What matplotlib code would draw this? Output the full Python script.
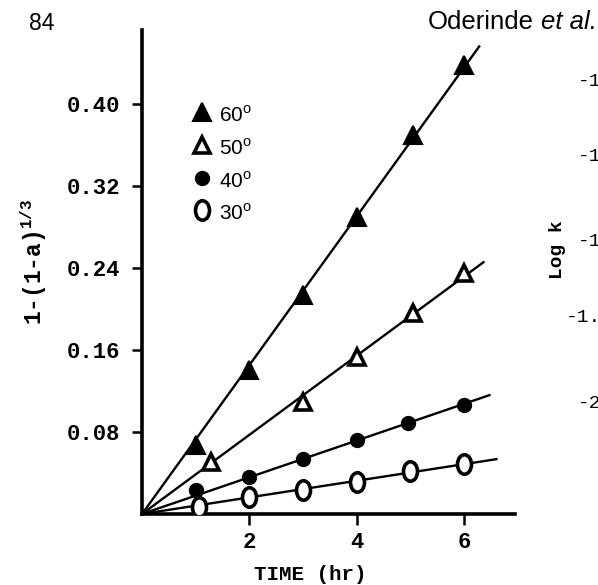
import numpy as np
import matplotlib
matplotlib.use("Agg")
import matplotlib.pyplot as plt
from matplotlib.path import Path
from matplotlib.transforms import Affine2D

# Data: time (hr) vs 1-(1-a)^(1/3)
time_60 = [1.0, 2.0, 3.0, 4.0, 5.05, 6.0]
conv_60 = [0.067, 0.140, 0.214, 0.290, 0.370, 0.438]
time_50 = [1.28, 3.0, 4.0, 5.05, 6.0]
conv_50 = [0.051, 0.109, 0.153, 0.196, 0.235]
time_40 = [1.0, 2.0, 3.0, 4.0, 4.95, 6.0]
conv_40 = [0.023, 0.036, 0.054, 0.072, 0.089, 0.106]
time_30 = [1.07, 2.0, 3.0, 4.0, 5.0, 6.0]
conv_30 = [0.007, 0.017, 0.023, 0.031, 0.042, 0.049]
line_end = [6.28, 6.36, 6.47, 6.6]
temps = ["60", "50", "40", "30"]

yticks = [0.08, 0.16, 0.24, 0.32, 0.40]
ytick_labels = ["0.08", "0.16", "0.24", "0.32", "0.40"]
xticks = [2, 4, 6]

plt.rcParams['mathtext.fontset'] = 'custom'
plt.rcParams['mathtext.rm'] = 'Liberation Mono:bold'
plt.rcParams['mathtext.sf'] = 'Liberation Sans'

# tall ellipse used for the open circles
ellipse = Path.unit_circle().transformed(Affine2D().scale(0.72, 1.0))

styles = [
    dict(marker='^', ms=13, mfc='black', mec='black', mew=1.5),
    dict(marker='^', ms=12, mfc='white', mec='black', mew=2.6),
    dict(marker='o', ms=10, mfc='black', mec='black', mew=1),
    dict(marker=ellipse, ms=14, mfc='white', mec='black', mew=2.6),
]
series = [(time_60, conv_60), (time_50, conv_50), (time_40, conv_40), (time_30, conv_30)]

fig = plt.figure(figsize=(5.98, 5.85), dpi=100)
ax = fig.add_axes([0.2375, 0.1214, 0.624, 0.827])

for (t, c), st, tend in zip(series, styles, line_end):
    t = np.array(t)
    c = np.array(c)
    slope = np.sum(t * c) / np.sum(t * t)   # fit through origin
    tt = np.array([0, tend])
    ax.plot(tt, slope * tt, color='black', lw=1.7, zorder=2)
    ax.plot(t, c, ls='none', zorder=3, **st)

ax.set_xlim(0, 6.95)
ax.set_ylim(0, 0.472)
for s in ['top', 'right']:
    ax.spines[s].set_visible(False)
for s in ['left', 'bottom']:
    ax.spines[s].set_linewidth(2.6)

ax.set_xticks(xticks)
ax.set_yticks(yticks)
ax.set_yticklabels(ytick_labels)
ax.tick_params(axis='y', direction='out', width=1.8, length=7, pad=9)
ax.tick_params(axis='x', direction='out', width=1.8, length=8, pad=5)
for lab in ax.get_xticklabels() + ax.get_yticklabels():
    lab.set_fontfamily('Liberation Mono')
    lab.set_fontweight('bold')
    lab.set_fontsize(16)

# axis titles
fig.text(310 / 598, 1 - 574 / 585, 'TIME (hr)', fontfamily='Liberation Mono',
         fontweight='bold', fontsize=15, ha='center', va='center')
fig.text(34 / 598, 1 - 262 / 585, '1-(1-a)$^{1/3}$', fontfamily='Liberation Mono',
         fontweight='bold', fontsize=16.5, rotation=90, ha='center', va='center')

# legend drawn by hand
leg_y = [0.831, 0.762, 0.694, 0.628]
for st, ty, lab in zip(styles, leg_y, temps):
    ax.plot([0.161], [ty], transform=ax.transAxes, ls='none', clip_on=False, **st)
    ax.text(0.207, ty - 0.006, lab + r'$^{\mathsf{o}}$', transform=ax.transAxes,
            fontfamily='Liberation Sans', fontsize=15, va='center', ha='left')

# page text around the figure
fig.text(29 / 598, 1 - 24 / 585, '84', fontfamily='Liberation Sans', fontsize=16.5,
         va='center', ha='left')
fig.text(428 / 598, 1 - 22 / 585, 'Oderinde', fontfamily='Liberation Sans',
         fontsize=18.5, va='center', ha='left')
fig.text(541 / 598, 1 - 22 / 585, 'et al.', fontfamily='Liberation Sans',
         fontstyle='italic', fontsize=18.5, va='center', ha='left')

# neighbouring panel, cut off by the page edge as in the scan
right_ticks = [(578, 82, '-1'), (578, 157, '-1'), (578, 242, '-1'),
               (566, 318, '-1.'), (578, 403, '-2')]
for x, y, s in right_ticks:
    fig.text(x / 598, 1 - y / 585, s, fontfamily='Liberation Mono', fontsize=14,
             va='center', ha='left')
fig.text(558 / 598, 1 - 250 / 585, 'Log k', fontfamily='Liberation Mono',
         fontweight='bold', fontsize=14, rotation=90, va='center', ha='center')

fig.savefig('out.png', dpi=100)
